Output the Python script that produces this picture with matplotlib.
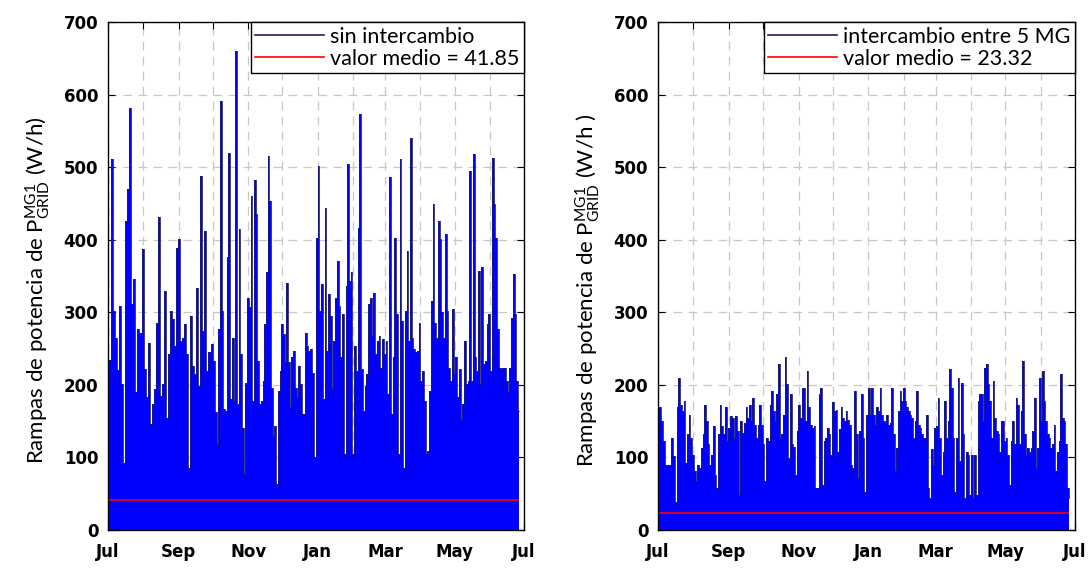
import numpy as np
import matplotlib as mpl
mpl.use('Agg')
import matplotlib.pyplot as plt
import matplotlib.dates as mdates
from matplotlib.lines import Line2D
from matplotlib.ticker import FuncFormatter, MultipleLocator
from datetime import datetime

mpl.rcParams['mathtext.default'] = 'regular'
mpl.rcParams['xtick.direction'] = 'in'
mpl.rcParams['ytick.direction'] = 'in'

# daily ramp peaks, W/h, read in four stretches across the year
# each stretch: (first day, last day, values)
ramps_solo = [
    (0.0, 89.0, [235, 235, 511, 302, 265, 220, 309, 201, 93, 426, 470, 582, 311, 346, 190, 277,
                 272, 387, 222, 183, 258, 146, 174, 194, 286, 431, 185, 201, 330, 155, 242, 302,
                 291, 254, 389, 401, 261, 265, 284, 242, 86, 295, 226, 215, 334, 199, 488, 275,
                 412, 219, 245]),
    (91.5, 179.6, [256, 233, 162, 118, 277, 591, 302, 167, 164, 376, 520, 180, 265, 178, 660, 174,
                   415, 242, 141, 77, 203, 320, 307, 460, 178, 483, 435, 233, 174, 178, 206, 284,
                   355, 516, 454, 196, 130, 144, 63, 192, 219, 284, 270, 231, 341, 231, 169, 238,
                   247, 196, 183, 226, 201, 160, 160, 272, 254, 247, 249, 217]),
    (181.6, 281.0, [100, 403, 502, 302, 339, 180, 444, 247, 325, 295, 196, 261, 320, 371, 309, 238,
                    298, 105, 337, 504, 343, 355, 105, 254, 219, 417, 573, 222, 164, 199, 215, 311,
                    320, 268, 327, 242, 261, 268, 224, 263, 242, 261, 187, 486, 160, 238, 403, 298,
                    105, 511, 288, 86, 302, 385, 261, 541, 265, 249, 245, 247, 286, 206, 219, 178,
                    105, 109]),
    (282.5, 360.6, [192, 316, 449, 286, 265, 426, 401, 300, 265, 408, 302, 224, 206, 304, 215, 238,
                    183, 222, 151, 174, 261, 201, 206, 495, 206, 518, 238, 219, 357, 201, 362, 229,
                    233, 284, 298, 219, 513, 449, 403, 277, 224, 222, 224, 224, 206, 190, 224, 292,
                    353, 298, 206, 164]),
]

ramps_shared = [
    (0.5, 88.0, [150, 169, 150, 122, 90, 90, 90, 90, 127, 102, 39, 169, 210, 173, 164, 178, 92, 132,
                 159, 127, 104, 81, 67, 90, 85, 113, 132, 173, 150, 118, 90, 104, 143, 76, 58, 132,
                 173, 143, 132, 169, 122, 141, 157, 155, 127, 157, 136, 48, 150, 134, 148, 169, 155,
                 173, 150, 182, 145, 127, 145]),
    (89.5, 184.3, [173, 145, 118, 67, 127, 122, 173, 192, 164, 150, 187, 229, 127, 132, 159, 238, 201,
                   99, 187, 118, 115, 76, 136, 173, 155, 196, 196, 150, 219, 169, 145, 141, 143, 58,
                   58, 187, 196, 62, 122, 127, 141, 132, 104, 176, 164, 166, 108, 139, 169, 155, 150,
                   164, 152, 145, 90, 85, 192, 132, 72, 136, 187, 127, 53, 159, 196]),
    (186.0, 280.5, [159, 196, 159, 145, 169, 164, 196, 159, 150, 148, 159, 145, 148, 196, 132, 81, 113,
                    164, 192, 178, 196, 178, 169, 164, 159, 155, 127, 150, 192, 145, 141, 132, 127,
                    127, 159, 58, 44, 111, 90, 141, 143, 182, 127, 76, 108, 178, 127, 150, 222, 196,
                    127, 53, 127, 210, 95, 203, 132, 44, 108, 104, 48, 104, 44, 104, 48, 178]),
    (282.0, 360.1, [187, 187, 150, 224, 229, 201, 178, 127, 205, 155, 136, 132, 108, 150, 150, 122, 127,
                    104, 62, 122, 150, 118, 182, 173, 118, 164, 233, 132, 104, 113, 108, 113, 136, 182,
                    85, 113, 210, 150, 219, 178, 150, 132, 127, 113, 118, 145, 81, 108, 122, 215, 155,
                    150, 118, 58, 44]),
]

mean_solo = 41.85
mean_shared = 23.32
labels = ['sin intercambio', 'intercambio entre 5 MG']
ylabels = [r'Rampas de potencia de $P^{MG1}_{GRID}$ (W/h)',
           r'Rampas de potencia de $P^{MG1}_{GRID}$ (W/h )']

start = mdates.date2num(datetime(2014, 7, 1))
end = mdates.date2num(datetime(2015, 7, 1))

navy = '#1c1c72'
red = '#ff0000'


def stitch(pieces):
    days = np.concatenate([np.linspace(a, b, len(v)) for a, b, v in pieces])
    vals = np.concatenate([np.array(v, dtype=float) for a, b, v in pieces])
    return start + days, vals


def month_label(x, pos):
    d = mdates.num2date(x)
    return d.strftime('%b') if d.month % 2 == 1 else ''


fig = plt.figure(figsize=(10.89, 5.68), dpi=100)
ax1 = fig.add_axes([0.0992, 0.0669, 0.382, 0.894])
ax2 = fig.add_axes([0.6042, 0.0669, 0.383, 0.894])

for ax, pieces, mean, lab, ylab in zip([ax1, ax2], [ramps_solo, ramps_shared],
                                       [mean_solo, mean_shared], labels, ylabels):
    t, v = stitch(pieces)
    ax.fill_between(t, 0, v, step='mid', color='#0000ff', lw=0)
    ax.step(t, v, where='mid', color=navy, lw=0.6)
    ax.hlines(mean, t[0], t[-1], color=red, lw=1.2)

    ax.set_xlim(start, end)
    ax.set_ylim(0, 700)
    ax.xaxis.set_major_locator(mdates.MonthLocator())
    ax.xaxis.set_major_formatter(FuncFormatter(month_label))
    ax.yaxis.set_major_locator(MultipleLocator(100))
    ax.tick_params(top=True, right=True, length=5, width=0.8, labelsize=12)
    ax.tick_params(axis='x', pad=9)
    ax.tick_params(axis='y', pad=7)
    for tl in ax.get_xticklabels() + ax.get_yticklabels():
        tl.set_fontweight('bold')
    ax.grid(True, color='#c8c8c8', ls=(0, (7, 5)), lw=0.9)
    ax.set_axisbelow(True)
    for s in ax.spines.values():
        s.set_linewidth(1.0)

    ax.set_ylabel(ylab, fontsize=16, family='Lato')
    ax.yaxis.set_label_coords(-0.135, 0.472)

    handles = [Line2D([], [], color=navy, lw=1.2), Line2D([], [], color=red, lw=1.2)]
    leg = ax.legend(handles, [lab, 'valor medio = %.2f' % mean], loc='upper right',
                    borderaxespad=0, fancybox=False, handlelength=3.2,
                    prop={'family': 'Lato', 'size': 15.5}, borderpad=0.2, labelspacing=0.1,
                    handletextpad=0.3)
    leg.get_frame().set_edgecolor('black')
    leg.get_frame().set_linewidth(1.0)
    leg.get_frame().set_alpha(1)

fig.savefig('out.png', dpi=100)
